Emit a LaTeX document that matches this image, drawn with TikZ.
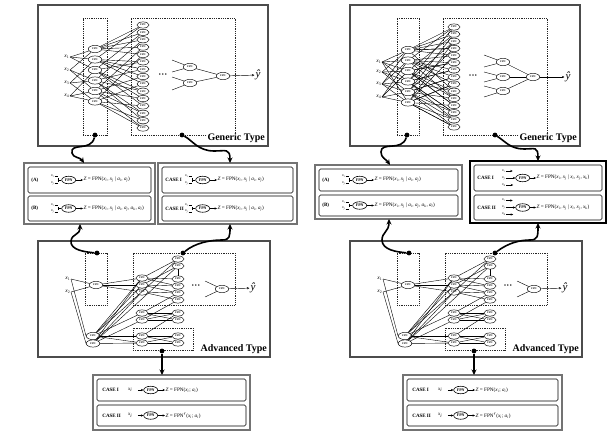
\documentclass[tikz,border=0pt]{standalone}
\usepackage{fontspec}
\setmainfont{Liberation Serif}
\usetikzlibrary{arrows.meta,shapes.geometric,calc,fit}
\newcommand{\xn}[1]{\textit{x}\textsubscript{#1}}
\newcommand{\xv}[1]{\textit{x}\textsubscript{\textit{#1}}}
\newcommand{\av}[1]{\textit{a}\textsubscript{\textit{#1}}}
\tikzset{
  fpn/.style={ellipse,draw,line width=0.45pt,fill=white,inner sep=0pt,minimum width=13.5pt,minimum height=7.2pt,font=\fontsize{2.6}{3}\selectfont\bfseries},
  cnode/.style={fpn,minimum width=12pt,minimum height=6.2pt},
  lnk/.style={line width=0.4pt},
  outerbox/.style={draw=black!70,line width=1.8pt,inner sep=0pt},
  dashbox/.style={draw=black!85,line width=0.5pt,dash pattern=on 0.9pt off 0.9pt,inner sep=0pt},
  wavy/.style={line width=1.6pt,-{Stealth[length=5.5pt,width=5pt]}},
  startdot/.style={circle,fill=black,inner sep=0pt,minimum size=4.8pt},
  inlabel/.style={font=\fontsize{5.5}{6}\selectfont,inner sep=0.5pt},
  dotsnode/.style={font=\fontsize{9}{9}\selectfont\bfseries,inner sep=0pt},
  typelabel/.style={font=\fontsize{10}{11}\selectfont\bfseries,fill=white,inner sep=1pt},
  yhat/.style={font=\fontsize{11}{12}\selectfont\itshape,inner sep=1pt},
  groupbox/.style={draw=black!55,line width=1.5pt,inner sep=0pt},
  darkgroup/.style={draw=black,line width=1.8pt,inner sep=0pt},
  rowbox/.style={draw=black,line width=0.6pt,rounded corners=1.5pt,inner sep=0pt},
  rowlabel/.style={font=\fontsize{5}{5.5}\selectfont\bfseries,inner sep=0.5pt},
  rowtxt/.style={font=\fontsize{5.2}{6}\selectfont,inner sep=0.5pt},
  intxt/.style={font=\fontsize{3.8}{4}\selectfont,inner sep=0.3pt},
  fpnsmall/.style={ellipse,draw,line width=0.6pt,inner sep=0pt,minimum width=14pt,minimum height=7.5pt,font=\fontsize{4}{4}\selectfont\bfseries},
  arr/.style={-{Stealth[length=2.4pt,width=2.2pt]},line width=0.45pt},
}
% two stacked inputs joined by a bracket
\newcommand{\rowtwo}[7]{%
  \node[rowbox, fit={(#2,#3)(#4,#5)}] (#1) {};
  \node[rowlabel, anchor=west] (#1-l) at ([xshift=3pt]#1.west) {#6};
  \node[intxt, anchor=west] (#1-a) at ([xshift=23pt,yshift=3.4pt]#1.west) {\xv{i}};
  \node[intxt, anchor=west] (#1-b) at ([xshift=23pt,yshift=-3.4pt]#1.west) {\xv{j}};
  \node[fpnsmall] (#1-f) at ([xshift=41pt]#1.west) {FPN};
  \coordinate (#1-j) at ([xshift=-3.5pt]#1-f.west);
  \draw[lnk, densely dashed] (#1-a.east) -| (#1-j);
  \draw[lnk, densely dashed] (#1-b.east) -| (#1-j);
  \draw[lnk] (#1-j) -- (#1-f.west);
  \node[rowtxt, anchor=west] (#1-z) at ([xshift=7pt]#1-f.east) {#7};
  \draw[arr] (#1-f.east) -- (#1-z.west);
}
% three inputs, middle one into the FPN
\newcommand{\rowthree}[7]{%
  \node[rowbox, fit={(#2,#3)(#4,#5)}] (#1) {};
  \node[rowlabel, anchor=west] (#1-l) at ([xshift=3pt]#1.west) {#6};
  \node[intxt, anchor=west] (#1-a) at ([xshift=28pt,yshift=7pt]#1.west) {\xv{i}};
  \node[intxt, anchor=west] (#1-b) at ([xshift=28pt]#1.west) {\xv{j}};
  \node[intxt, anchor=west] (#1-c) at ([xshift=28pt,yshift=-7pt]#1.west) {\xv{k}};
  \node[fpnsmall] (#1-f) at ([xshift=49pt]#1.west) {FPN};
  \coordinate (#1-ae) at ([xshift=7pt]#1-a.east);
  \coordinate (#1-ce) at ([xshift=7pt]#1-c.east);
  \draw[arr] (#1-a.east) -- (#1-ae);
  \draw[arr] (#1-c.east) -- (#1-ce);
  \draw[arr] (#1-b.east) -- (#1-f.west);
  \node[rowtxt, anchor=west] (#1-z) at ([xshift=6pt]#1-f.east) {#7};
  \draw[arr] (#1-f.east) -- (#1-z.west);
}
% single input
\newcommand{\rowone}[7]{%
  \node[rowbox, fit={(#2,#3)(#4,#5)}] (#1) {};
  \node[rowlabel, anchor=west] (#1-l) at ([xshift=5pt]#1.west) {#6};
  \node[intxt, anchor=west, font=\fontsize{5}{5}\selectfont] (#1-a) at ([xshift=31pt]#1.west) {\xv{i}};
  \node[fpnsmall] (#1-f) at ([xshift=54pt]#1.west) {FPN};
  \draw[arr] ([xshift=5pt]#1-a.east) -- (#1-f.west);
  \node[rowtxt, anchor=west] (#1-z) at ([xshift=7pt]#1-f.east) {#7};
  \draw[arr] (#1-f.east) -- (#1-z.west);
}
\begin{document}
\begin{tikzpicture}[x=1pt,y=-1pt]
\useasboundingbox (0,0) rectangle (608,439);
\fill[white] (0,0) rectangle (608,439);

%================ Generic type (left)
\node[outerbox, fit={(38,5)(268,146)}] (GLbox) {};
\node[dashbox, fit={(83,18)(107,135)}] (GLd1) {};
\node[dashbox, fit={(131,18)(235,135)}] (GLd2) {};
\foreach \i/\y in {1/57,2/70,3/83,4/96} \node[inlabel,anchor=east] (GLx\i) at (70,\y) {\xn{\i}};
\foreach \i/\y in {1/49,2/59.5,3/70,4/80.5,5/91,6/101.5} \node[fpn] (GLf\i) at (95,\y) {FPN};
\foreach \k in {1,...,15} \node[cnode] (GLc\k) at (143,{25+(\k-1)*7.36}) {FPN};
\foreach \f/\a/\b in {1/1/2,2/1/3,3/1/4,4/2/3,5/2/4,6/3/4} {\draw[lnk] (GLx\a.east) -- (GLf\f); \draw[lnk] (GLx\b.east) -- (GLf\f);}
\foreach \k/\a/\b in {1/1/2,2/1/3,3/1/4,4/1/5,5/1/6,6/2/3,7/2/4,8/2/5,9/2/6,10/3/4,11/3/5,12/3/6,13/4/5,14/4/6,15/5/6} {\draw[lnk] (GLf\a) -- (GLc\k); \draw[lnk] (GLf\b) -- (GLc\k);}
\node[dotsnode] (GLdots) at (163,76) {···};
\node[fpn] (GLg1) at (190,67) {FPN};
\node[fpn] (GLg2) at (190,83) {FPN};
\node[fpn] (GLh) at (223,76) {FPN};
\coordinate (GLs1) at (172,60); \coordinate (GLs2) at (172,72);
\coordinate (GLs3) at (172,77); \coordinate (GLs4) at (172,90);
\draw[lnk] (GLs1) -- (GLg1); \draw[lnk] (GLs2) -- (GLg1);
\draw[lnk] (GLs3) -- (GLg2); \draw[lnk] (GLs4) -- (GLg2);
\draw[lnk] (GLg1) -- (GLh); \draw[lnk] (GLg2) -- (GLh);
\node[yhat] (GLy) at (258,75) {ŷ};
\draw[arr] (GLh) -- (GLy);
\node[typelabel,anchor=south east] (GLt) at (266,144) {Generic Type};
\node[startdot] (GLp1) at (95,135) {};
\node[startdot] (GLp2) at (182,135) {};

%================ Generic type (right)
\node[outerbox, fit={(350,5)(580,146)}] (GRbox) {};
\node[dashbox, fit={(397,18)(419,135)}] (GRd1) {};
\node[dashbox, fit={(443,18)(547,135)}] (GRd2) {};
\foreach \i/\y in {1/62,2/72,3/84,4/97} \node[inlabel,anchor=east] (GRx\i) at (382,\y) {\xn{\i}};
\foreach \i/\y in {1/50,2/60.5,3/71,4/81.5,5/92,6/102.5} \node[fpn] (GRf\i) at (408,\y) {FPN};
\foreach \k in {1,...,15} \node[cnode] (GRc\k) at (454,{27+(\k-1)*7.14}) {FPN};
\foreach \f/\a/\b/\c in {1/1/2/3,2/1/3/4,3/1/4/2,4/2/3/1,5/2/4/3,6/3/4/1} {\draw[lnk] (GRx\a.east) -- (GRf\f); \draw[lnk] (GRx\b.east) -- (GRf\f); \draw[lnk] (GRx\c.east) -- (GRf\f);}
\foreach \k/\a/\b in {1/1/2,2/1/3,3/1/4,4/1/5,5/1/6,6/2/3,7/2/4,8/2/5,9/2/6,10/3/4,11/3/5,12/3/6,13/4/5,14/4/6,15/5/6} {\pgfmathtruncatemacro\thd{mod(\k+2,6)+1}\draw[lnk] (GRf\a) -- (GRc\k); \draw[lnk] (GRf\b) -- (GRc\k); \draw[lnk] (GRf\thd) -- (GRc\k);}
\node[dotsnode] (GRdots) at (473,77) {···};
\node[fpn] (GRg1) at (503,62) {FPN};
\node[fpn] (GRg2) at (503,77) {FPN};
\node[fpn] (GRg3) at (503,91) {FPN};
\node[fpn] (GRh) at (533,77) {FPN};
\coordinate (GRs1) at (484,55); \coordinate (GRs2) at (484,67);
\coordinate (GRs3) at (484,72); \coordinate (GRs4) at (484,82);
\coordinate (GRs5) at (484,86); \coordinate (GRs6) at (484,97);
\draw[lnk] (GRs1) -- (GRg1); \draw[lnk] (GRs2) -- (GRg1);
\draw[lnk] (GRs3) -- (GRg2); \draw[lnk] (GRs4) -- (GRg2);
\draw[lnk] (GRs5) -- (GRg3); \draw[lnk] (GRs6) -- (GRg3);
\draw[lnk] (GRg1) -- (GRh); \draw[lnk] (GRg2) -- (GRh); \draw[lnk] (GRg3) -- (GRh);
\node[yhat] (GRy) at (568,77) {ŷ};
\draw[arr] (GRh) -- (GRy);
\node[typelabel,anchor=south east] (GRt) at (578,144) {Generic Type};
\node[startdot] (GRp1) at (407,135) {};
\node[startdot] (GRp2) at (495,135) {};

%================ Case boxes (middle row)
\node[groupbox, fit={(24,163)(155,224)}] (CLa) {};
\node[groupbox, fit={(158,163)(297,224)}] (CLb) {};
\rowtwo{CLa1}{28}{167}{151}{193}{(A)}{\textit{Z} = FPN(\xv{i}, \xv{j} | \av{i}, \av{j})}
\rowtwo{CLa2}{28}{196}{151}{221}{(B)}{\textit{Z} = FPN(\xv{i}, \xv{j} | \av{i}, \av{j}, \av{k}, \av{l})}
\rowtwo{CLb1}{162}{167}{293}{193}{CASE I}{\textit{Z} = FPN(\xv{i}, \xv{j} | \av{i}, \av{j})}
\rowtwo{CLb2}{162}{196}{293}{221}{CASE II}{\textit{Z} = FPN(\xv{i}, \xv{j} | \av{i}, \av{j})}

\node[groupbox, fit={(315,165)(462,219)}] (CRa) {};
\node[darkgroup, fit={(470,161)(606,223)}] (CRb) {};
\rowtwo{CRa1}{319}{169}{458}{191}{(A)}{\textit{Z} = FPN(\xv{i}, \xv{j} | \av{i}, \av{j})}
\rowtwo{CRa2}{319}{195}{458}{216}{(B)}{\textit{Z} = FPN(\xv{i}, \xv{j} | \av{i}, \av{j}, \av{k}, \av{l})}
\rowthree{CRb1}{474}{165}{602}{191}{CASE I}{\textit{Z} = FPN(\xv{i}, \xv{j} | \xv{i}, \xv{j}, \xv{k})}
\rowthree{CRb2}{474}{195}{602}{220}{CASE II}{\textit{Z} = FPN(\xv{i}, \xv{j} | \xv{i}, \xv{j}, \xv{k})}

%================ Advanced type (both)
\foreach \p/\s in {AL/0,AR/312} {
  \node[outerbox, fit={({\s+38},241)({\s+270},357)}] (\p-box) {};
  \node[dashbox, fit={({\s+85},253)({\s+107},305)}] (\p-d1) {};
  \node[dashbox, fit={({\s+133},253)({\s+235},305)}] (\p-d2) {};
  \node[dashbox, fit={({\s+133},328)({\s+193},350)}] (\p-d3) {};
  \node[inlabel,anchor=east] (\p-x1) at ({\s+71},279) {\xn{1}};
  \node[inlabel,anchor=east] (\p-x2) at ({\s+71},292) {\xn{2}};
  \node[fpn] (\p-f) at ({\s+96},285) {FPN};
  \node[fpn] (\p-b1) at ({\s+93},336) {FPN};
  \node[fpn] (\p-b2) at ({\s+93},343.5) {FPN};
  \foreach \i/\y in {1/278,2/285,3/292,4/313,5/320,6/336,7/343}
    \node[cnode] (\p-a\i) at ({\s+142},\y) {FPN};
  \foreach \i/\y in {1/259,2/266,3/279,4/286,5/293,6/300,7/313,8/320,9/336,10/343}
    \node[cnode] (\p-B\i) at ({\s+178},\y) {FPN};
  \draw[lnk] (\p-x1.east) -- (\p-f); \draw[lnk] (\p-x2.east) -- (\p-f);
  \draw[lnk] (\p-x1.east) -- (\p-b1.west); \draw[lnk] (\p-x2.east) -- (\p-b2.west);
  \foreach \t in {1,2,3} \draw[lnk] (\p-f) -- (\p-a\t);
  \foreach \t in {1,2,4,6,7} \draw[lnk] (\p-b1) -- (\p-a\t);
  \foreach \t in {1,3,5,7} \draw[lnk] (\p-b2) -- (\p-a\t);
  \draw[lnk] (\p-b1) -- (\p-B1); \draw[lnk] (\p-b2) -- (\p-B2);
  \foreach \a/\b in {1/3,1/4,1/1,2/4,2/5,2/2,3/5,3/6,4/7,4/8,4/5,5/7,5/8,5/6,6/9,6/10,7/9,7/10,6/7}
    \draw[lnk] (\p-a\a) -- (\p-B\b);
  \draw[lnk] (\p-B2) -- (\p-B3);
  \node[dotsnode] (\p-dots) at ({\s+196},287) {···};
  \node[fpn] (\p-g) at ({\s+222},289) {FPN};
  \coordinate (\p-s1) at ({\s+205},281); \coordinate (\p-s2) at ({\s+205},297);
  \draw[lnk] (\p-s1) -- (\p-g); \draw[lnk] (\p-s2) -- (\p-g);
  \node[yhat] (\p-y) at ({\s+253},288) {ŷ};
  \draw[arr] (\p-g) -- (\p-y);
  \node[typelabel,anchor=south east] (\p-t) at ({\s+268},355) {Advanced Type};
  \node[startdot] (\p-p1) at ({\s+97},253) {};
  \node[startdot] (\p-p2) at ({\s+183},253) {};
  \node[startdot] (\p-p3) at ({\s+162},351) {};
}

%================ Bottom case boxes
\node[groupbox, fit={(93,375)(250,430)}] (BC1) {};
\rowone{BC1a}{97}{379}{246}{401}{CASE I}{\textit{Z} = FPN(\xv{i}; \av{i})}
\rowone{BC1b}{97}{405}{246}{426}{CASE II}{\textit{Z} = FPN$'$(\xv{i}; \av{i})}
\node[groupbox, fit={(403,375)(562,430)}] (BC2) {};
\rowone{BC2a}{407}{379}{558}{401}{CASE I}{\textit{Z} = FPN(\xv{i}; \av{i})}
\rowone{BC2b}{407}{405}{558}{426}{CASE II}{\textit{Z} = FPN$'$(\xv{i}; \av{i})}

%================ Wavy connectors
\coordinate (CLa-in) at (84,163);
\draw[wavy] (GLp1) .. controls (91,152) and (70,142) .. (72,153) .. controls (73,158) and (80,157) .. (CLa-in);
\coordinate (CLb-in) at (230,163);
\draw[wavy] (GLp2) .. controls (192,140) and (198,151) .. (214,151) .. controls (226,151) and (230,148) .. (CLb-in);
\coordinate (CRa-in) at (390,165);
\draw[wavy] (GRp1) .. controls (402,152) and (381,141) .. (381,152) .. controls (381,158) and (386,159) .. (CRa-in);
\coordinate (CRb-in) at (538,161);
\draw[wavy] (GRp2) .. controls (505,141) and (510,149) .. (524,149) .. controls (535,149) and (538,146) .. (CRb-in);

\coordinate (CLa-out) at (80,224);
\draw[wavy] (AL-p1) .. controls (85,252) and (70,250) .. (71,241) .. controls (72,233) and (80,236) .. (CLa-out);
\coordinate (CLb-out) at (230,224);
\draw[wavy] (AL-p2) .. controls (195,243) and (210,240) .. (222,240) .. controls (230,240) and (230,236) .. (CLb-out);
\coordinate (CRa-out) at (389,219);
\draw[wavy] (AR-p1) .. controls (397,252) and (382,250) .. (382,240) .. controls (382,232) and (389,232) .. (CRa-out);
\coordinate (CRb-out) at (538,223);
\draw[wavy] (AR-p2) .. controls (508,243) and (520,240) .. (530,240) .. controls (538,240) and (538,236) .. (CRb-out);

\coordinate (BC1-in) at (162,375);
\draw[wavy] (AL-p3) -- (BC1-in);
\coordinate (BC2-in) at (474,375);
\draw[wavy] (AR-p3) -- (BC2-in);
\end{tikzpicture}
\end{document}
